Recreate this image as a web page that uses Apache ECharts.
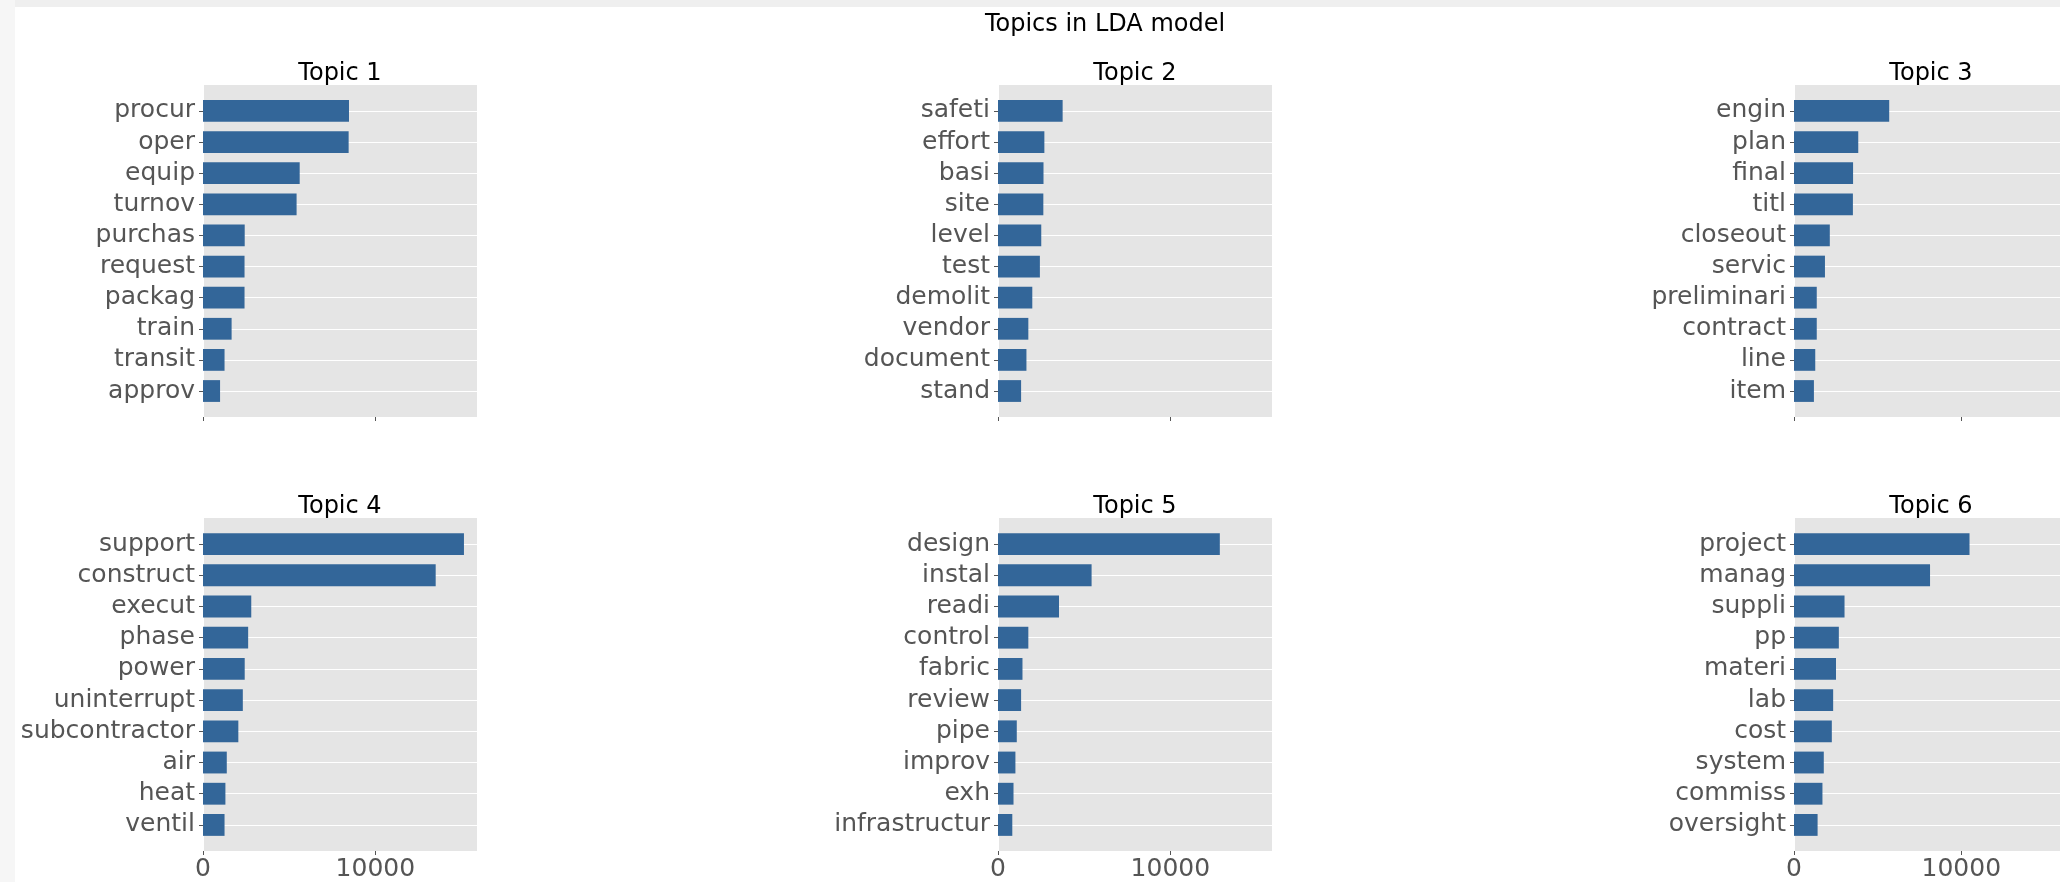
<!DOCTYPE html>
<html>
<head>
<meta charset="utf-8">
<script src="https://cdn.jsdelivr.net/npm/echarts@6/dist/echarts.min.js"></script>
<style>
html, body { margin: 0; padding: 0; background: #ffffff; }
#topband { position: absolute; left: 0; top: 0; width: 2060px; height: 7px; background: #efefef; }
#leftband { position: absolute; left: 0; top: 0; width: 15px; height: 882px; background: #f6f6f6; }
#chart { position: absolute; left: 0; top: 0; width: 2060px; height: 882px; }
</style>
</head>
<body>
<div id="topband"></div>
<div id="leftband"></div>
<div id="chart"></div>
<script>
// ---- data ----
const suptitle = 'Topics in LDA model';
const topicTitles = ['Topic 1', 'Topic 2', 'Topic 3', 'Topic 4', 'Topic 5', 'Topic 6'];

const topic1Words  = ['procur', 'oper', 'equip', 'turnov', 'purchas', 'request', 'packag', 'train', 'transit', 'approv'];
const topic1Values = [8470, 8450, 5610, 5430, 2420, 2410, 2410, 1660, 1250, 990];

const topic2Words  = ['safeti', 'effort', 'basi', 'site', 'level', 'test', 'demolit', 'vendor', 'document', 'stand'];
const topic2Values = [3750, 2690, 2640, 2630, 2510, 2430, 1990, 1760, 1650, 1340];

const topic3Words  = ['engin', 'plan', 'final', 'titl', 'closeout', 'servic', 'preliminari', 'contract', 'line', 'item'];
const topic3Values = [5690, 3840, 3530, 3520, 2140, 1850, 1360, 1360, 1270, 1190];

const topic4Words  = ['support', 'construct', 'execut', 'phase', 'power', 'uninterrupt', 'subcontractor', 'air', 'heat', 'ventil'];
const topic4Values = [15140, 13500, 2800, 2620, 2420, 2310, 2050, 1380, 1300, 1250];

const topic5Words  = ['design', 'instal', 'readi', 'control', 'fabric', 'review', 'pipe', 'improv', 'exh', 'infrastructur'];
const topic5Values = [12870, 5430, 3540, 1760, 1420, 1340, 1090, 1010, 900, 830];

const topic6Words  = ['project', 'manag', 'suppli', 'pp', 'materi', 'lab', 'cost', 'system', 'commiss', 'oversight'];
const topic6Values = [10490, 8130, 3020, 2680, 2510, 2340, 2260, 1780, 1700, 1410];

const xTickValues = [0, 10000];
const xMax = 15897;   // shared x limit (max value + 5% margin)

// ---- layout ----
const FONT = 'DejaVu Sans';
const words  = [topic1Words, topic2Words, topic3Words, topic4Words, topic5Words, topic6Words];
const values = [topic1Values, topic2Values, topic3Values, topic4Values, topic5Values, topic6Values];
const colLeft = [203, 998, 1794];
const plotW = 274;
const rowTop = [85, 518];
const rowH = [332, 333];
const titleTop = [61.5, 494.5];
const barColor = '#336699';
const tickFont = 25;

const grid = [], xAxis = [], yAxis = [], series = [], title = [];

title.push({
  text: suptitle, left: 1105, top: 13, textAlign: 'center', padding: 0,
  textStyle: { fontFamily: FONT, fontSize: 24, fontWeight: 'normal', color: '#000', lineHeight: 24 }
});

for (let i = 0; i < 6; i++) {
  const col = i % 3, row = Math.floor(i / 3);
  const L = colLeft[col], T = rowTop[row], H = rowH[row];
  const unit = H / 10.67;            // matplotlib y-limits: -0.835 .. 9.835
  const m = 0.335 * unit;            // extra space above/below category bands

  title.push({
    text: topicTitles[i], left: L + plotW / 2, top: titleTop[row], textAlign: 'center', padding: 0,
    textStyle: { fontFamily: FONT, fontSize: 24, fontWeight: 'normal', color: '#000', lineHeight: 24 }
  });

  // background grid (gray panel with vertical gridlines and x ticks)
  grid.push({ left: L, top: T, width: plotW, height: H, show: true,
              backgroundColor: '#E5E5E5', borderWidth: 0 });
  // bar grid (category band region)
  grid.push({ left: L, top: T + m, width: plotW, height: H - 2 * m, show: false });

  const gBg = 2 * i, gBar = 2 * i + 1;

  xAxis.push({
    type: 'value', gridIndex: gBg, min: 0, max: xMax, interval: 10000,
    axisLine: { show: false },
    axisTick: { show: true, length: 4, customValues: xTickValues, lineStyle: { color: '#555555', width: 1 } },
    axisLabel: { show: row === 1, customValues: xTickValues, margin: 6, fontFamily: FONT, fontSize: tickFont, color: '#555555',
                 formatter: v => (v % 10000 === 0 ? String(v) : '') },
    splitLine: { show: true, showMaxLine: false, lineStyle: { color: '#ffffff', width: 1 } }
  });
  yAxis.push({ type: 'value', gridIndex: gBg, show: false });

  xAxis.push({ type: 'value', gridIndex: gBar, min: 0, max: xMax, show: false, splitLine: { show: false } });
  yAxis.push({
    type: 'category', gridIndex: gBar, inverse: true, data: words[i],
    axisLine: { show: false },
    axisTick: { show: true, alignWithLabel: true, interval: 0, length: 4, lineStyle: { color: '#555555', width: 1 } },
    axisLabel: { interval: 0, margin: 8, fontFamily: FONT, fontSize: tickFont, color: '#555555' },
    splitLine: { show: true, interval: 0, alignWithLabel: true, lineStyle: { color: '#ffffff', width: 1 } }
  });

  series.push({
    type: 'bar', xAxisIndex: gBar, yAxisIndex: gBar, data: values[i],
    barWidth: '70%', itemStyle: { color: barColor }, silent: true, z: 3
  });
}

const chart = echarts.init(document.getElementById('chart'), null, { renderer: 'canvas' });
chart.setOption({
  backgroundColor: 'transparent',
  animation: false,
  title, grid, xAxis, yAxis, series
});
</script>
</body>
</html>
